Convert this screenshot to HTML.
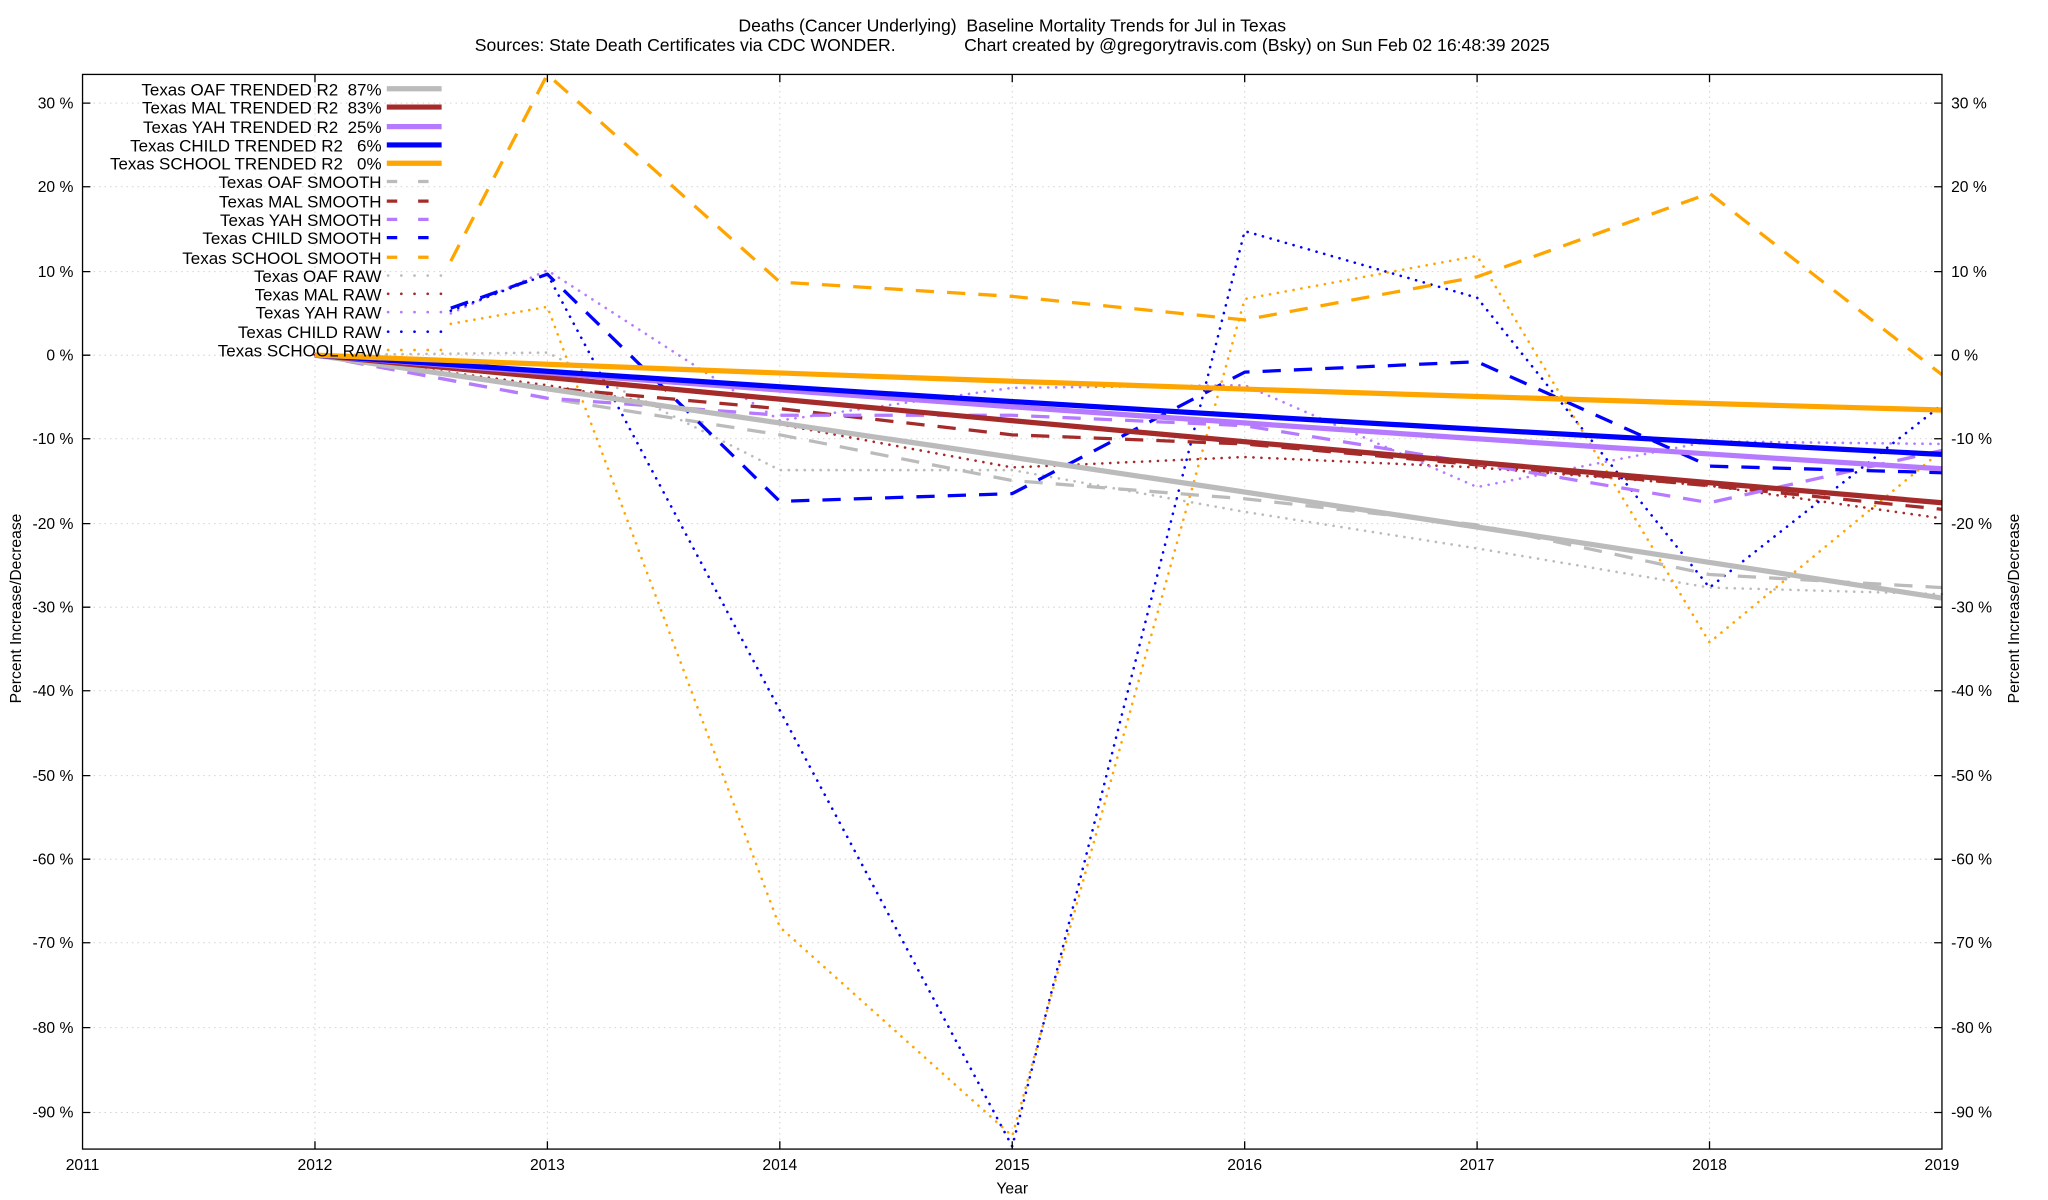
<!DOCTYPE html>
<html><head><meta charset="utf-8"><style>
html,body{margin:0;padding:0;background:#fff;}
svg{display:block;}
text{font-family:"Liberation Sans",Arial,sans-serif;fill:#000;}
</style></head><body>
<svg width="2048" height="1200" viewBox="0 0 1568 919" xmlns="http://www.w3.org/2000/svg">
<rect width="1568" height="919" fill="#fff"/>
<text x="775" y="24" font-size="13.5" text-anchor="middle" style="white-space:pre">Deaths (Cancer Underlying)  Baseline Mortality Trends for Jul in Texas</text>
<text x="775" y="39" font-size="13.5" text-anchor="middle" style="white-space:pre">Sources: State Death Certificates via CDC WONDER.              Chart created by @gregorytravis.com (Bsky) on Sun Feb 02 16:48:39 2025</text>
<g stroke="#d4d4d4" stroke-width="0.8" stroke-dasharray="1.2,3" fill="none">
<path d="M63,79H1487M63,143H1487M63,208H1487M63,272H1487M63,336H1487M63,401H1487M63,465H1487M63,529H1487M63,594H1487M63,658H1487M63,722H1487M63,787H1487M63,852H1487"/>
<path d="M241,57V880M419,57V880M597,57V880M775,57V880M953,57V880M1131,57V880M1309,57V880"/>
</g>
<g font-size="12">
<g text-anchor="end">
<text x="56" y="83">30 %</text><text x="56" y="147">20 %</text><text x="56" y="212">10 %</text><text x="56" y="276">0 %</text><text x="56" y="340">-10 %</text><text x="56" y="405">-20 %</text><text x="56" y="469">-30 %</text><text x="56" y="533">-40 %</text><text x="56" y="598">-50 %</text><text x="56" y="662">-60 %</text><text x="56" y="726">-70 %</text><text x="56" y="791">-80 %</text><text x="56" y="856">-90 %</text>
</g>
<g text-anchor="start">
<text x="1494" y="83">30 %</text><text x="1494" y="147">20 %</text><text x="1494" y="212">10 %</text><text x="1494" y="276">0 %</text><text x="1494" y="340">-10 %</text><text x="1494" y="405">-20 %</text><text x="1494" y="469">-30 %</text><text x="1494" y="533">-40 %</text><text x="1494" y="598">-50 %</text><text x="1494" y="662">-60 %</text><text x="1494" y="726">-70 %</text><text x="1494" y="791">-80 %</text><text x="1494" y="856">-90 %</text>
</g>
<g text-anchor="middle">
<text x="63" y="896">2011</text><text x="241" y="896">2012</text><text x="419" y="896">2013</text><text x="597" y="896">2014</text><text x="775" y="896">2015</text><text x="953" y="896">2016</text><text x="1131" y="896">2017</text><text x="1309" y="896">2018</text><text x="1487" y="896">2019</text>
<text x="775" y="914">Year</text>
</g>
<text transform="translate(16,466) rotate(-90)" text-anchor="middle">Percent Increase/Decrease</text>
<text transform="translate(1546,466) rotate(-90)" text-anchor="middle">Percent Increase/Decrease</text>
</g>
<g fill="none" stroke-linejoin="round">
<g stroke-width="2" stroke-dasharray="0.1,6" stroke-linecap="round">
<polyline stroke="#bbbbbb" points="241,272 419,270 597,360 775,360 953,392 1131,420 1309,450 1487,455"/>
<polyline stroke="#a52a2a" points="241,272 419,295 597,325 775,358 953,350 1131,358 1309,372 1487,397"/>
<polyline stroke="#b57aff" points="345,240 419,207 597,322 775,297 953,295 1131,373 1309,338 1487,340"/>
<polyline stroke="#0000ff" points="345,238 419,210 775,878 953,177 1131,228 1309,450 1487,310"/>
<polyline stroke="#ffa500" points="345,248 419,235 597,710 775,870 953,229 1131,196 1309,492 1487,345"/>
</g>
<g stroke-width="2.5" stroke-dasharray="14,10">
<polyline stroke="#bbbbbb" points="241,272 419,305 597,333 775,368 953,382 1131,402 1309,440 1487,450"/>
<polyline stroke="#a52a2a" points="241,272 419,297 597,313 775,333 953,340 1131,356 1309,372 1487,390"/>
<polyline stroke="#b57aff" points="241,272 419,305 597,318 775,318 953,326 1131,355 1309,385 1487,345"/>
<polyline stroke="#0000ff" points="345,236 419,210 597,384 775,378 953,285 1131,277 1309,357 1487,362"/>
<polyline stroke="#ffa500" points="345,200 419,57 597,216 775,227 953,245 1131,212 1309,148 1487,287"/>
</g>
<g stroke-width="4">
<path stroke="#bbbbbb" d="M241,272 Q864,362 1487,458"/>
<path stroke="#a52a2a" d="M241,272 Q864,332 1487,385"/>
<path stroke="#b57aff" d="M241,272 Q864,320 1487,359"/>
<path stroke="#0000ff" d="M241,272 Q864,316 1487,348"/>
<path stroke="#ffa500" d="M241,272 Q864,297 1487,314"/>
</g>
</g>
<rect x="63" y="57" width="1424" height="823" fill="none" stroke="#000" stroke-width="1"/>
<g stroke="#000" stroke-width="1">
<path d="M63,79h6M63,143h6M63,208h6M63,272h6M63,336h6M63,401h6M63,465h6M63,529h6M63,594h6M63,658h6M63,722h6M63,787h6M63,852h6"/>
<path d="M1487,79h-6M1487,143h-6M1487,208h-6M1487,272h-6M1487,336h-6M1487,401h-6M1487,465h-6M1487,529h-6M1487,594h-6M1487,658h-6M1487,722h-6M1487,787h-6M1487,852h-6"/>
<path d="M241,880v-6M419,880v-6M597,880v-6M775,880v-6M953,880v-6M1131,880v-6M1309,880v-6M241,57v6M419,57v6M597,57v6M775,57v6M953,57v6M1131,57v6M1309,57v6"/>
</g>
<g font-size="13" text-anchor="end">
<text x="292" y="73">Texas OAF TRENDED R2&#160;&#160;87%</text>
<text x="292" y="87">Texas MAL TRENDED R2&#160;&#160;83%</text>
<text x="292" y="102">Texas YAH TRENDED R2&#160;&#160;25%</text>
<text x="292" y="116">Texas CHILD TRENDED R2&#160;&#160;&#160;6%</text>
<text x="292" y="130">Texas SCHOOL TRENDED R2&#160;&#160;&#160;0%</text>
<text x="292" y="144">Texas OAF SMOOTH</text>
<text x="292" y="159">Texas MAL SMOOTH</text>
<text x="292" y="173">Texas YAH SMOOTH</text>
<text x="292" y="187">Texas CHILD SMOOTH</text>
<text x="292" y="202">Texas SCHOOL SMOOTH</text>
<text x="292" y="216">Texas OAF RAW</text>
<text x="292" y="230">Texas MAL RAW</text>
<text x="292" y="244">Texas YAH RAW</text>
<text x="292" y="259">Texas CHILD RAW</text>
<text x="292" y="273">Texas SCHOOL RAW</text>
</g>
<g fill="none">
<g stroke-width="4">
<path stroke="#bbbbbb" d="M296,68H338"/><path stroke="#a52a2a" d="M296,82H338"/><path stroke="#b57aff" d="M296,97H338"/><path stroke="#0000ff" d="M296,111H338"/><path stroke="#ffa500" d="M296,125H338"/>
</g>
<g stroke-width="2.5" stroke-dasharray="8,16">
<path stroke="#bbbbbb" d="M296,139H338"/><path stroke="#a52a2a" d="M296,154H338"/><path stroke="#b57aff" d="M296,168H338"/><path stroke="#0000ff" d="M296,182H338"/><path stroke="#ffa500" d="M296,197H338"/>
</g>
<g stroke-width="2" stroke-dasharray="0.1,10" stroke-linecap="round">
<path stroke="#bbbbbb" d="M297,211H338"/><path stroke="#a52a2a" d="M297,225H338"/><path stroke="#b57aff" d="M297,239H338"/><path stroke="#0000ff" d="M297,254H338"/><path stroke="#ffa500" d="M297,268H338"/>
</g>
</g>
</svg>
</body></html>
